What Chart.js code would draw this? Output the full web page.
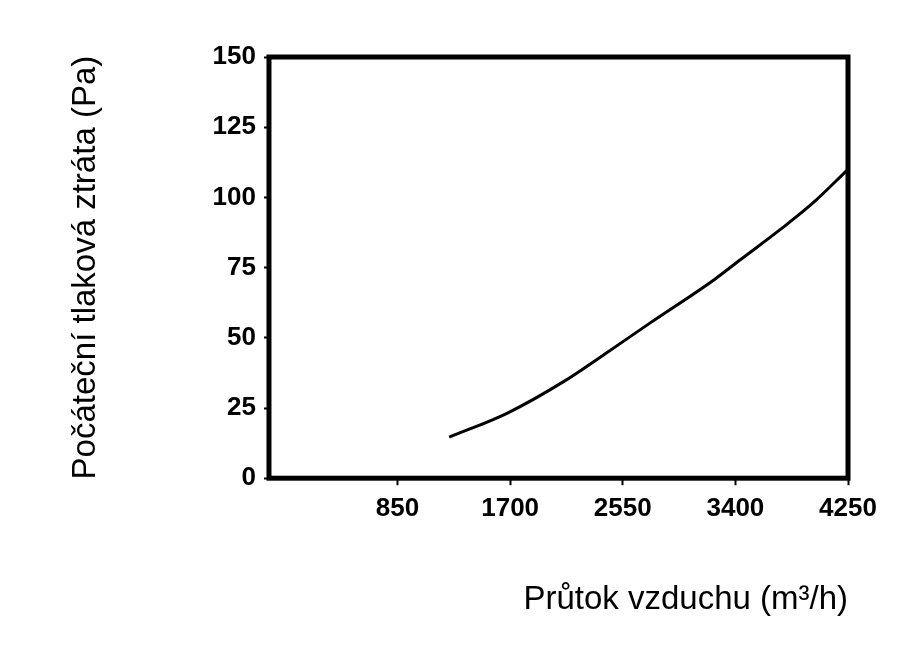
<!DOCTYPE html>
<html>
<head>
<meta charset="utf-8">
<script src="https://cdn.jsdelivr.net/npm/chart.js@4.4.1/dist/chart.umd.min.js"></script>
<style>
 html,body{margin:0;padding:0;background:#fff;}
 #wrap{width:910px;height:648px;}
</style>
</head>
<body>
<div id="wrap"><canvas id="c" width="910" height="648"></canvas></div>
<script>
// airflow (m3/h) vs initial pressure drop (Pa)
const flow=[1240,1680,2100,2380,2760,3240,3440,3740,3990,4250];
const dropPa=[14.6,23.2,34.3,43.1,55.4,70.7,77.9,88.6,98.2,110];
const xTicks=[850,1700,2550,3400,4250];
const yTicks=[0,25,50,75,100,125,150];

const tickFont={family:'"Liberation Sans", Arial, sans-serif',size:26,weight:'bold'};
const titleFont={family:'"Liberation Sans", Arial, sans-serif',size:33,weight:'normal'};

const frame={
 id:'frame',
 afterDatasetsDraw(chart){
   const {ctx,chartArea:a}=chart;
   ctx.save();ctx.strokeStyle='#000';ctx.lineWidth=5;ctx.lineJoin='miter';
   ctx.strokeRect(a.left,a.top,a.right-a.left,a.bottom-a.top);
   ctx.restore();
 }
};

new Chart(document.getElementById('c'),{
 type:'line',
 data:{datasets:[{data:flow.map((x,i)=>({x,y:dropPa[i]})),borderColor:'#000',borderWidth:3,pointRadius:0,cubicInterpolationMode:'monotone',fill:false}]},
 options:{
   responsive:false,animation:false,
   layout:{padding:{left:60,right:62,top:57,bottom:28}},
   plugins:{legend:{display:false},tooltip:{enabled:false}},
   scales:{
     x:{type:'linear',min:-120,max:4250,
        afterBuildTicks:ax=>{ax.ticks=xTicks.map(v=>({value:v}));},
        grid:{drawOnChartArea:false,drawTicks:true,tickLength:7,tickWidth:2,tickColor:'#000'},
        border:{display:false},
        ticks:{color:'#000',font:tickFont,padding:8,maxRotation:0,autoSkip:false,callback:v=>String(v)},
        title:{display:true,text:'Průtok vzduchu (m³/h)',color:'#000',font:titleFont,align:'end',padding:{top:48,bottom:0}}},
     y:{type:'linear',min:0,max:150,
        afterBuildTicks:ax=>{ax.ticks=yTicks.map(v=>({value:v}));},
        grid:{drawOnChartArea:false,drawTicks:true,tickLength:5,tickWidth:2,tickColor:'#000'},
        border:{display:false},
        ticks:{color:'#000',font:tickFont,padding:8,callback:v=>String(v)},
        title:{display:true,text:'Počáteční tlaková ztráta (Pa)',color:'#000',font:titleFont,padding:{top:6,bottom:99}}}
   }
 },
 plugins:[frame]
});
</script>
</body>
</html>
